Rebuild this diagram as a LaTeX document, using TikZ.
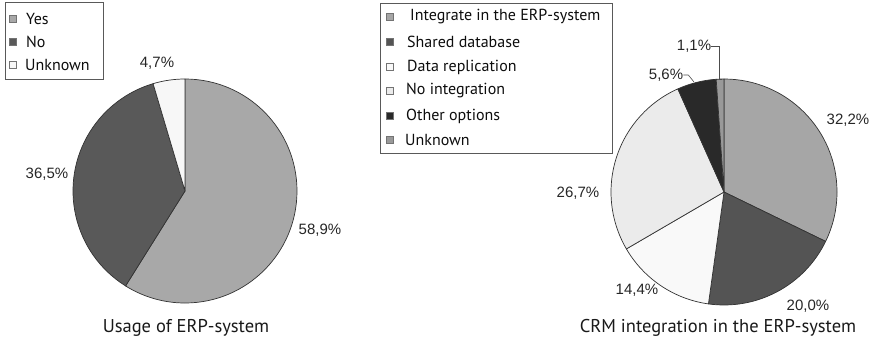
\documentclass[tikz,border=0pt]{standalone}
\usepackage{fontspec}
\setmainfont{PT Sans}
\newfontfamily\numfont{Liberation Sans}
\definecolor{edgec}{gray}{0.2}
\definecolor{yesc}{gray}{0.66}
\definecolor{noc}{gray}{0.35}
\definecolor{unkc}{gray}{0.97}
\definecolor{intc}{gray}{0.65}
\definecolor{shc}{gray}{0.33}
\definecolor{drc}{gray}{0.975}
\definecolor{nic}{gray}{0.92}
\definecolor{otc}{gray}{0.16}
\definecolor{ukc}{gray}{0.6}
\newcommand\pieslice[5]{%
  \filldraw[fill=#5, draw=edgec, line width=0.7pt, line join=round]
    (#1) -- ++({-(#3)}:#2) arc[start angle={-(#3)}, end angle={-(#4)}, radius=#2] -- cycle;}
\begin{document}
\begin{tikzpicture}[x=1pt,y=-1pt,
  lbl/.style={font=\numfont\fontsize{15}{15}\selectfont, text=black!85, inner sep=0},
  leg/.style={font=\fontsize{16}{16}\selectfont, text=black!95, anchor=west, inner sep=0},
  legmark/.style={draw=black!55, line width=0.6pt, minimum size=7.5pt, inner sep=0},
  ttl/.style={font=\fontsize{18.5}{18.5}\selectfont, text=black!90, inner sep=0},
  boxline/.style={draw=black!65, line width=0.8pt},
  leader/.style={draw=black!70, line width=0.6pt}]
\useasboundingbox (0,0) rectangle (874,345);
% ---------- left pie ----------
\coordinate (lc) at (185,191);
\pieslice{lc}{112}{90}{-122.04}{yesc}
\pieslice{lc}{112}{-122.04}{-253.44}{noc}
\pieslice{lc}{112}{-253.44}{-270}{unkc}
\node[lbl] (p589) at (320,230) {58,9\%};
\node[lbl] (p365) at (47,174) {36,5\%};
\node[lbl] (p47) at (157,63) {4,7\%};
\node[ttl] (t1) at (186,328) {Usage of ERP-system};
% left legend
\draw[boxline] (5,2) rectangle (103,79);
\node[legmark, fill=yesc] (m1) at (13,19) {};
\node[legmark, fill=noc] (m2) at (13,42) {};
\node[legmark, fill=unkc] (m3) at (13,65) {};
\node[leg] (l1) at (26,19) {Yes};
\node[leg] (l2) at (26,42) {No};
\node[leg] (l3) at (25,65) {Unknown};
% ---------- right pie ----------
\coordinate (rc) at (724,192);
\pieslice{rc}{113}{90}{-25.92}{intc}
\pieslice{rc}{113}{-25.92}{-97.92}{shc}
\pieslice{rc}{113}{-97.92}{-149.76}{drc}
\pieslice{rc}{113}{-149.76}{-245.88}{nic}
\pieslice{rc}{113}{-245.88}{-266.04}{otc}
\pieslice{rc}{113}{-266.04}{-270}{ukc}
\node[lbl] (p322) at (848,120) {32,2\%};
\node[lbl] (p200) at (808,306) {20,0\%};
\node[lbl] (p144) at (637,290) {14,4\%};
\node[lbl] (p267) at (578,193) {26,7\%};
\node[lbl] (p56) at (666,75) {5,6\%};
\node[lbl] (p11) at (694,46) {1,1\%};
\coordinate (a56) at (694,82);
\coordinate (a11) at (722,79);
\draw[leader] (p56.east) -- ++(5,0) -- (a56);
\draw[leader] (p11.east) -- ++(8,0) |- (a11);
\node[ttl] (t2) at (718,328) {CRM integration in the ERP-system};
% right legend
\draw[boxline] (380,3) rectangle (612,153);
\node[legmark, fill=intc] (n1) at (390,17) {};
\node[legmark, fill=shc] (n2) at (390,42) {};
\node[legmark, fill=drc] (n3) at (390,67) {};
\node[legmark, fill=nic] (n4) at (390,91) {};
\node[legmark, fill=otc] (n5) at (390,116) {};
\node[legmark, fill=ukc] (n6) at (390,140) {};
\node[leg] (k1) at (410,17) {Integrate in the ERP-system};
\node[leg] (k2) at (407,42) {Shared database};
\node[leg] (k3) at (407,67) {Data replication};
\node[leg] (k4) at (406,91) {No integration};
\node[leg] (k5) at (406,116) {Other options};
\node[leg] (k6) at (405,140) {Unknown};
\end{tikzpicture}
\end{document}
